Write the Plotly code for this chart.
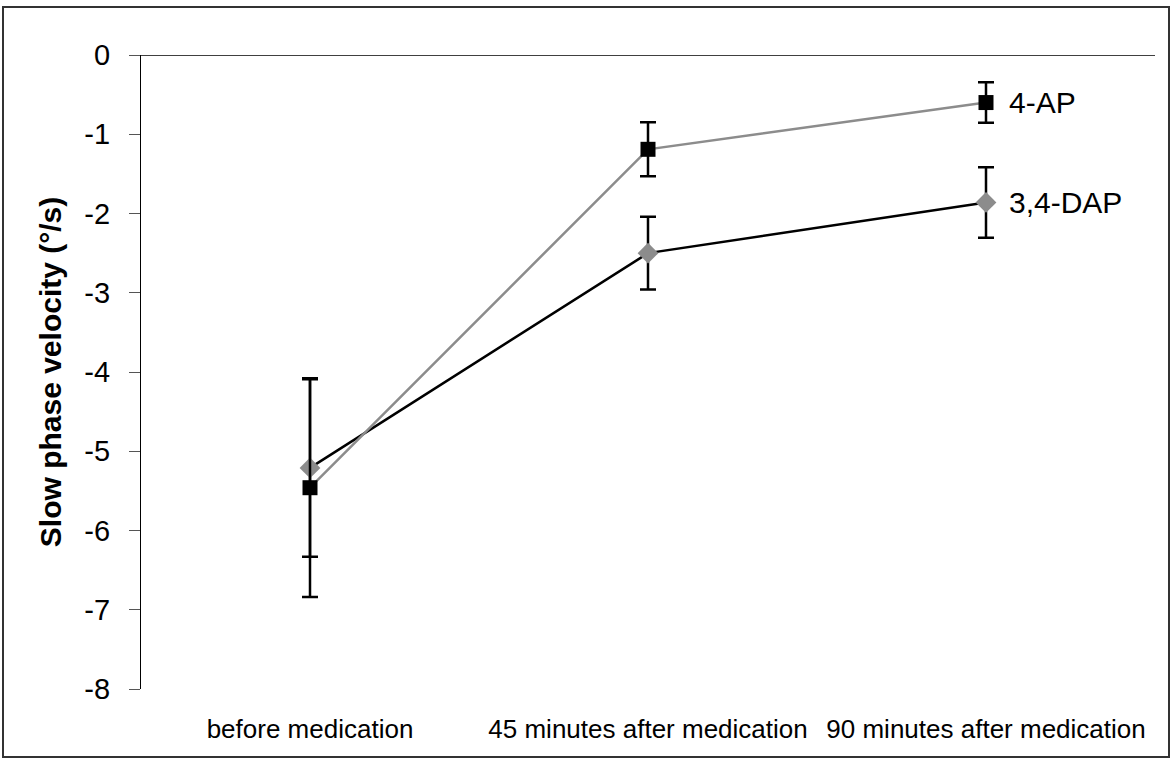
import plotly.graph_objects as go

# Time points and slow phase velocity (°/s), mean ± error
timepoints = ["before medication", "45 minutes after medication", "90 minutes after medication"]
ap4_mean = [-5.46, -1.19, -0.60]
ap4_err = [1.38, 0.34, 0.255]
dap34_mean = [-5.21, -2.50, -1.86]
dap34_err = [1.12, 0.46, 0.445]
series_labels = ["4-AP", "3,4-DAP"]
y_ticks = [0, -1, -2, -3, -4, -5, -6, -7, -8]

W, H = 1171, 765
ML, MR, MT, MB = 141, 16, 55, 76
FONT = "Liberation Sans, Arial, sans-serif"

fig = go.Figure()

fig.add_trace(go.Scatter(
    x=timepoints, y=dap34_mean, mode="lines+markers", name=series_labels[1],
    line=dict(color="black", width=2.5),
    marker=dict(symbol="diamond", size=16, color="#8c8c8c"),
    error_y=dict(type="data", array=dap34_err, visible=True, color="black", thickness=2.5, width=8),
))
fig.add_trace(go.Scatter(
    x=timepoints, y=ap4_mean, mode="lines+markers", name=series_labels[0],
    line=dict(color="#8c8c8c", width=2.5),
    marker=dict(symbol="square", size=15, color="black"),
    error_y=dict(type="data", array=ap4_err, visible=True, color="black", thickness=2.5, width=8),
))

# Series labels placed beside the last point
for label, ys in zip(series_labels, [ap4_mean, dap34_mean]):
    fig.add_annotation(x=timepoints[-1], y=ys[-1], text=label, showarrow=False,
                       xanchor="left", yanchor="middle", xshift=21,
                       font=dict(family=FONT, size=30, color="black"))

pw, ph = W - ML - MR, H - MT - MB
def px_x(x):
    return (x - ML) / pw
def px_y(y):
    return (H - MB - y) / ph

# Outer chart frame
fig.add_shape(type="rect", xref="paper", yref="paper",
              x0=px_x(3), x1=px_x(1169), y0=px_y(757), y1=px_y(7),
              line=dict(color="#333333", width=2), layer="below")
# Horizontal axis line at zero
fig.add_shape(type="line", xref="paper", yref="y", x0=0, x1=1, y0=0, y1=0,
              line=dict(color="black", width=1.3))

fig.update_layout(
    width=W, height=H,
    margin=dict(l=ML, r=MR, t=MT, b=MB),
    paper_bgcolor="white", plot_bgcolor="white",
    showlegend=False,
    font=dict(family=FONT, color="black"),
    xaxis=dict(type="category", categoryorder="array", categoryarray=timepoints,
               range=[-0.5, 2.5], showgrid=False, zeroline=False, showline=False,
               ticks="", ticklabelstandoff=22, tickfont=dict(size=26, family=FONT)),
    yaxis=dict(range=[-8, 0], tickvals=y_ticks, ticktext=[str(v) for v in y_ticks],
               showgrid=False, zeroline=False, showline=True, linecolor="black", linewidth=1.3,
               ticks="outside", ticklen=11, tickcolor="#555555", tickwidth=1.3,
               ticklabelstandoff=13, tickfont=dict(size=29, family=FONT),
               title=dict(text="<b>Slow phase velocity (°/s)</b>", standoff=13,
                          font=dict(size=30, family=FONT))),
)

fig.write_html("out.html")
